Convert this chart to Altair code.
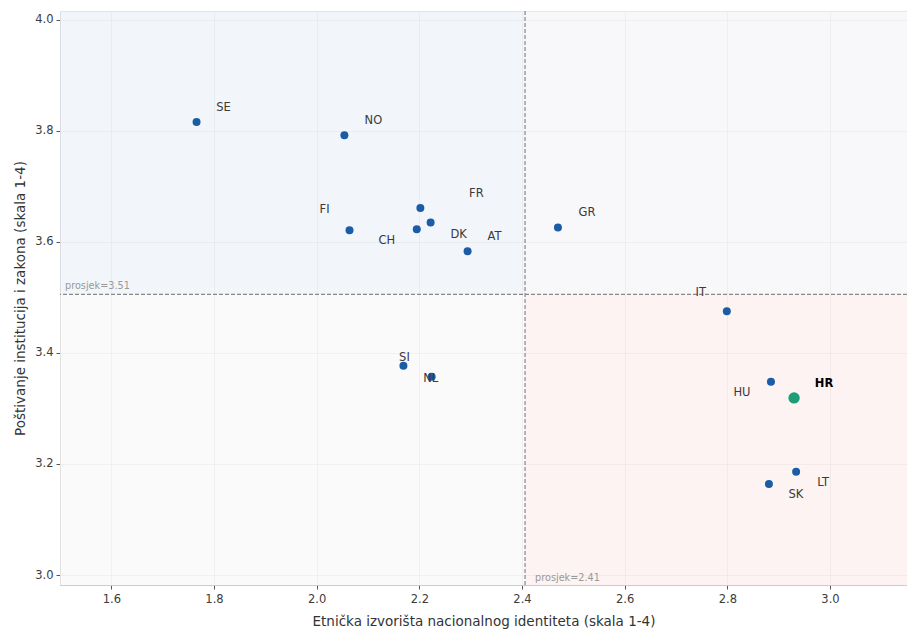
import altair as alt
import pandas as pd
import numpy as np

countries = ["SE", "NO", "FI", "FR", "DK", "CH", "AT", "GR", "IT", "SI", "NL", "HU", "HR", "LT", "SK"]
ethnic = [1.766, 2.054, 2.064, 2.202, 2.222, 2.195, 2.294, 2.470, 2.799, 2.169, 2.224, 2.885, 2.930, 2.934, 2.881]
institutions = [3.816, 3.792, 3.621, 3.661, 3.635, 3.623, 3.583, 3.626, 3.475, 3.377, 3.357, 3.348, 3.319, 3.186, 3.164]

# label offsets (pixels) relative to the point
label_dx = [27, 29, -25, 56, 28, -30, 27, 29, -26, 1, -1, -29, 30, 27, 27]
label_dy = [-14, -14, -20, -14, 12, 12, -14, -14, -18, -8, 2, 11, -14, 11, 11]

x_dom = [1.5, 3.15]
y_dom = [2.982, 4.016]

df = pd.DataFrame({"country": countries, "x": ethnic, "y": institutions})
df["hr"] = df["country"] == "HR"
mx = float(np.mean(ethnic))
my = float(np.mean(institutions))

quad = pd.DataFrame({
    "x": [x_dom[0], mx, x_dom[0], mx],
    "x2": [mx, x_dom[1], mx, x_dom[1]],
    "y": [my, my, y_dom[0], y_dom[0]],
    "y2": [y_dom[1], y_dom[1], my, my],
    "q": ["tl", "tr", "bl", "br"],
})

FONT = "DejaVu Sans"
xs = alt.Scale(domain=x_dom, nice=False, zero=False)
ys = alt.Scale(domain=y_dom, nice=False, zero=False)

base_x = alt.X("x:Q", scale=xs, title="Etnička izvorišta nacionalnog identiteta (skala 1-4)",
               axis=alt.Axis(values=[1.6, 1.8, 2.0, 2.2, 2.4, 2.6, 2.8, 3.0], format=".1f",
                             grid=True, gridColor="#ebebeb", domainColor="#cccccc",
                             tickColor="#555555", tickSize=4, labelPadding=4,
                             labelFontSize=11.5, labelColor="#3c3c3c", titleFontSize=13.5,
                             titleColor="#333333", titleFontWeight="normal", titlePadding=10,
                             labelFont=FONT, titleFont=FONT))
base_y = alt.Y("y:Q", scale=ys, title="Poštivanje institucija i zakona (skala 1-4)",
               axis=alt.Axis(values=[3.0, 3.2, 3.4, 3.6, 3.8, 4.0], format=".1f",
                             grid=True, gridColor="#ebebeb", domainColor="#cccccc",
                             tickColor="#555555", tickSize=4, labelPadding=3,
                             labelFontSize=11.5, labelColor="#3c3c3c", titleFontSize=13.5,
                             titleColor="#333333", titleFontWeight="normal", titlePadding=7,
                             labelFont=FONT, titleFont=FONT))

rects = alt.Chart(quad).mark_rect(opacity=0.5).encode(
    x=base_x, x2="x2:Q", y=base_y, y2="y2:Q",
    color=alt.Color("q:N", scale=alt.Scale(domain=["tl", "tr", "bl", "br"],
                                           range=["#e6eef6", "#f1eff5", "#f5f5f5", "#fbe8e6"]),
                    legend=None),
)

vline = alt.Chart(pd.DataFrame({"x": [mx]})).mark_rule(
    color="#888888", strokeDash=[4, 2], strokeWidth=1.2).encode(x=alt.X("x:Q", scale=xs))
hline = alt.Chart(pd.DataFrame({"y": [my]})).mark_rule(
    color="#888888", strokeDash=[4, 2], strokeWidth=1.2).encode(y=alt.Y("y:Q", scale=ys))

vtext = alt.Chart(pd.DataFrame({"x": [mx], "y": [y_dom[0]], "t": [f"prosjek={mx:.2f}"]})).mark_text(
    align="left", baseline="bottom", dx=10, dy=-2, fontSize=9.7, color="#999999", font=FONT
).encode(x=alt.X("x:Q", scale=xs), y=alt.Y("y:Q", scale=ys), text="t:N")
htext = alt.Chart(pd.DataFrame({"x": [x_dom[0]], "y": [my], "t": [f"prosjek={my:.2f}"]})).mark_text(
    align="left", baseline="bottom", dx=5, dy=-3, fontSize=9.7, color="#999999", font=FONT
).encode(x=alt.X("x:Q", scale=xs), y=alt.Y("y:Q", scale=ys), text="t:N")

pts = alt.Chart(df[~df["hr"]]).mark_circle(size=64, opacity=1, color="#1a5ca6").encode(
    x=alt.X("x:Q", scale=xs), y=alt.Y("y:Q", scale=ys))
hr_pt = alt.Chart(df[df["hr"]]).mark_circle(size=130, opacity=1, color="#1b9e77").encode(
    x=alt.X("x:Q", scale=xs), y=alt.Y("y:Q", scale=ys))

labels = []
for i, c in enumerate(countries):
    sub = df[df["country"] == c]
    bold = c == "HR"
    labels.append(alt.Chart(sub).mark_text(
        align="center", baseline="middle", dx=label_dx[i], dy=label_dy[i], fontSize=11.5,
        font=FONT, fontWeight="bold" if bold else "normal",
        color="#000000" if bold else "#3a3a3a").encode(
        x=alt.X("x:Q", scale=xs), y=alt.Y("y:Q", scale=ys), text="country:N"))

chart = alt.layer(rects, vline, hline, vtext, htext, pts, hr_pt, *labels).properties(
    width=847, height=574,
    autosize=alt.AutoSizeParams(type="none"),
    padding={"left": 52, "top": 3, "right": 0, "bottom": 50},
).configure_view(stroke=None).configure(background="white")

chart.save("out.html", embed_options={"renderer": "svg", "actions": False})
